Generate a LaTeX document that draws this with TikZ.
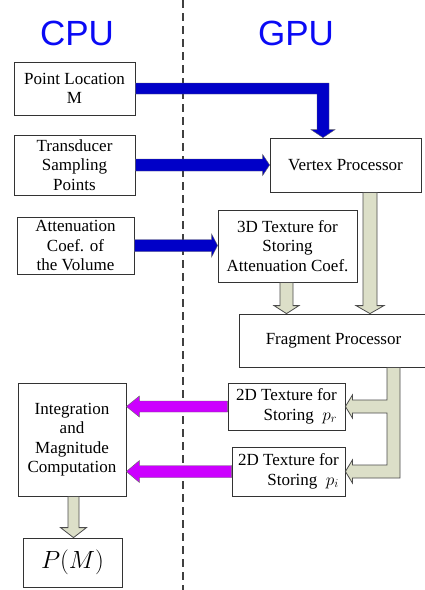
\documentclass[tikz,border=0pt]{standalone}
\usepackage{fontspec}
\newfontfamily\boxfont{LiberationSerif-Regular.ttf}
\newfontfamily\cpufont{Liberation Sans}
\usetikzlibrary{calc}
\definecolor{arrblue}{RGB}{0,0,200}
\definecolor{arrmag}{RGB}{204,0,255}
\definecolor{arrgray}{RGB}{220,223,200}
\definecolor{titleblue}{RGB}{10,10,245}
\newcommand\harrow[6]{% style, from, to, half shaft, half head, head length (signed)
 \path[#1] let \p1=(#2), \p2=(#3) in
  (\x1,{\y1+#4}) -- ({\x2-#6},{\y1+#4}) -- ({\x2-#6},{\y1+#5}) -- (\x2,\y1)
  -- ({\x2-#6},{\y1-#5}) -- ({\x2-#6},{\y1-#4}) -- (\x1,{\y1-#4}) -- cycle;}
\newcommand\varrow[7]{% style, from, to, x, half shaft, half head, head length
 \path[#1] let \p1=(#2), \p2=(#3), \p3=(#4,0) in
  ({\x3-#5},\y1) -- ({\x3-#5},{\y2+#7}) -- ({\x3-#6},{\y2+#7}) -- (\x3,\y2)
  -- ({\x3+#6},{\y2+#7}) -- ({\x3+#5},{\y2+#7}) -- ({\x3+#5},\y1) -- cycle;}
\begin{document}
\begin{tikzpicture}[x=1pt,y=-1pt,
  box/.style={draw=black!80, line width=0.8pt, fill=white, align=center, inner sep=0pt,
    font=\boxfont\fontsize{17}{19.5}\selectfont},
  bluearr/.style={fill=arrblue, draw=black!60, line width=0.4pt},
  magarr/.style={fill=arrmag, draw=black!60, line width=0.4pt},
  grayarr/.style={fill=arrgray, draw=black!70, line width=0.8pt},
  title/.style={font=\cpufont\fontsize{35}{40}\selectfont, text=titleblue, inner sep=0pt}]
\useasboundingbox (0,0) rectangle (425,590);
\clip (0,0) rectangle (425,590);
\fill[white] (0,0) rectangle (425,590);

\node[title] (cpu) at (77,33) {CPU};
\node[title] (gpu) at (296,33) {GPU};
\coordinate (dtop) at (183,0);
\coordinate (dbot) at (183,590);
\draw[black!75, line width=1.3pt, dash pattern=on 8pt off 5pt] (dtop) -- (dbot);

% boxes
\node[box, minimum width=121pt, minimum height=53pt] (pl) at (74.5,88.5) {Point Location\\M};
\node[box, minimum width=121pt, minimum height=60pt] (ts) at (74.5,165) {Transducer\\Sampling\\Points};
\node[box, minimum width=117pt, minimum height=57pt] (ac) at (75.5,245.5) {Attenuation\\Coef. of\\the Volume};
\node[box, minimum width=151pt, minimum height=54pt] (vp) at (345.5,165) {Vertex Processor};
\node[box, minimum width=139pt, minimum height=72pt] (tex3) at (287.5,246) {3D Texture for\\Storing\\Attenuation Coef.};
\node[box, minimum width=189pt, minimum height=53pt] (fp) at (333.5,340.5) {Fragment Processor};
\node[box, align=right, minimum width=117pt, minimum height=47pt] (t2r) at (286.5,406.5) {2D Texture for\\Storing ~$p_r$};
\node[box, align=right, minimum width=113pt, minimum height=49pt] (t2i) at (288.5,471.5) {2D Texture for\\Storing ~$p_i$};
\node[box, minimum width=108pt, minimum height=113pt] (ig) at (72,439.5) {Integration\\and\\Magnitude\\Computation};
\node[box, minimum width=99pt, minimum height=49pt, font=\fontsize{27}{30}\selectfont] (pm) at (72.5,562.5) {$P(M)$};

% blue arrows
\path[bluearr] let \p1=(pl.east), \p2=(vp.north), \p3=(323,0) in
  (\x1,{\y1+5.5}) -- ({\x3+6},{\y1+5.5}) -- ({\x3+6},{\y2+8}) -- ({\x3+12},{\y2+8})
  -- (\x3,\y2) -- ({\x3-12},{\y2+8}) -- ({\x3-6},{\y2+8}) -- ({\x3-6},{\y1-5.5})
  -- (\x1,{\y1-5.5}) -- cycle;
\harrow{bluearr}{ts.east}{vp.west}{6pt}{10.5pt}{7pt}
\harrow{bluearr}{ac.east}{tex3.west}{6pt}{11.5pt}{6pt}

% gray arrows
\varrow{grayarr}{tex3.south}{fp.north}{286.5}{6.5pt}{12.5pt}{8pt}
\varrow{grayarr}{vp.south}{fp.north}{370}{7pt}{14pt}{8pt}
\varrow{grayarr}{ig.south}{pm.north}{73.5}{5.5pt}{13pt}{10pt}
\path[grayarr] let \p1=(fp.south), \p2=(t2r.east), \p3=(t2i.east), \p4=(393.5,0) in
  ({\x4-6.5},\y1) -- ({\x4+6.5},\y1) -- ({\x4+6.5},{\y3-6.5}) -- ({\x3+7},{\y3-6.5})
  -- ({\x3+7},{\y3-11.5}) -- (\x3,\y3) -- ({\x3+7},{\y3+11.5}) -- ({\x3+7},{\y3+6.5})
  -- ({\x4-6.5},{\y3+6.5}) -- ({\x4-6.5},{\y2-6.5}) -- ({\x2+7},{\y2-6.5})
  -- ({\x2+7},{\y2-11.5}) -- (\x2,\y2) -- ({\x2+7},{\y2+11.5}) -- ({\x2+7},{\y2+6.5})
  -- ({\x4-6.5},{\y2+6.5}) -- cycle;

% magenta arrows
\harrow{magarr}{t2r.west}{ig.east}{5.5pt}{10.5pt}{-13pt}
\harrow{magarr}{t2i.west}{ig.east}{6pt}{11pt}{-13pt}
\end{tikzpicture}
\end{document}
